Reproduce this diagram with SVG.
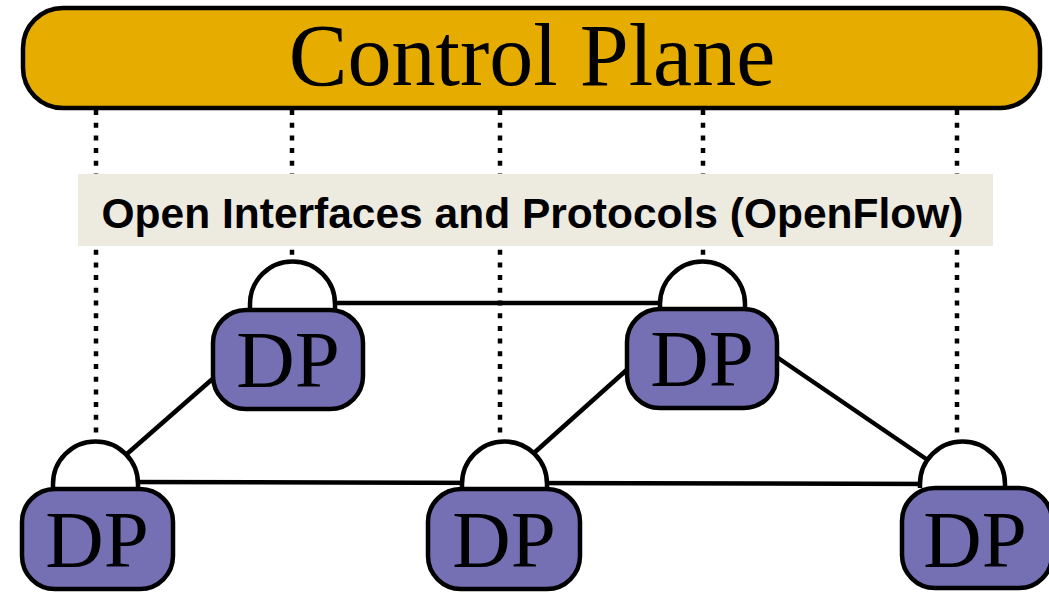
<svg xmlns="http://www.w3.org/2000/svg" width="1049" height="593" viewBox="0 0 1049 593">
<style>
.dot{stroke:#000;stroke-width:4.5;stroke-dasharray:5 7.7;fill:none}
.ln{stroke:#000;stroke-width:4.5;fill:none}
.dome{fill:#fff;stroke:#000;stroke-width:4.5}
.box{fill:#7570B3;stroke:#000;stroke-width:4.5}
.dp{font-family:"Liberation Serif",serif;font-size:81px;fill:#000;text-anchor:middle}
</style>
<rect width="1049" height="593" fill="#fff"/>
<g id="connectors">
<line class="dot" x1="96" y1="110" x2="96" y2="442"/>
<line class="dot" x1="292" y1="110" x2="292" y2="262"/>
<line class="dot" x1="500" y1="110" x2="500" y2="442"/>
<line class="dot" x1="703" y1="110" x2="703" y2="262"/>
<line class="dot" x1="957" y1="110" x2="957" y2="442"/>
<line class="ln" x1="320" y1="303" x2="680" y2="303"/>
<line class="ln" x1="120" y1="482" x2="940" y2="484"/>
<line class="ln" x1="120" y1="460" x2="225" y2="368"/>
<line class="ln" x1="525" y1="461" x2="640" y2="358"/>
<line class="ln" x1="765" y1="349" x2="935" y2="465"/>
</g>
<g id="control-plane">
<rect x="23" y="8" width="1017" height="100" rx="40" fill="#E6AC00" stroke="#000" stroke-width="4.5"/>
<text x="532" y="85" font-family="Liberation Serif,serif" font-size="88" text-anchor="middle" fill="#000">Control Plane</text>
</g>
<g id="label">
<rect x="78" y="174" width="915" height="72" fill="#EDEAE0"/>
<text x="532.5" y="228" font-family="Liberation Sans,Arial,sans-serif" font-size="42.5" font-weight="bold" text-anchor="middle" fill="#000">Open Interfaces and Protocols (OpenFlow)</text>
</g>
<g id="dp-top-left">
<path class="dome" d="M250,310 L250,304 A42.5,42.5 0 0 1 335,304 L335,310"/>
<rect class="box" x="213" y="310" width="150" height="99" rx="33"/>
<text class="dp" x="288" y="387">DP</text>
</g>
<g id="dp-top-right">
<path class="dome" d="M660,309 L660,304 A42.5,42.5 0 0 1 745,304 L745,309"/>
<rect class="box" x="627" y="309" width="150" height="99" rx="33"/>
<text class="dp" x="702" y="386">DP</text>
</g>
<g id="dp-bottom-left">
<path class="dome" d="M53,489 L53,484 A42.5,42.5 0 0 1 138,484 L138,489"/>
<rect class="box" x="22" y="489" width="151" height="100" rx="33"/>
<text class="dp" x="97" y="567">DP</text>
</g>
<g id="dp-bottom-middle">
<path class="dome" d="M462,489 L462,484 A42.5,42.5 0 0 1 547,484 L547,489"/>
<rect class="box" x="428" y="489" width="152" height="100" rx="33"/>
<text class="dp" x="504" y="567">DP</text>
</g>
<g id="dp-bottom-right">
<path class="dome" d="M920,488 L920,484 A42.5,42.5 0 0 1 1005,484 L1005,488"/>
<rect class="box" x="902" y="488" width="150" height="100" rx="33"/>
<text class="dp" x="975" y="567">DP</text>
</g>
</svg>
